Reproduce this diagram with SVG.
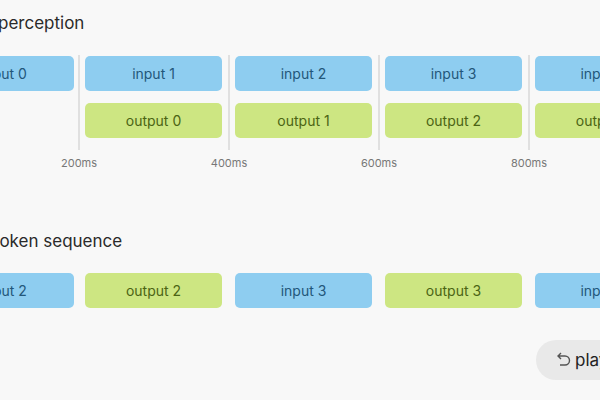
<svg xmlns="http://www.w3.org/2000/svg" width="600" height="400" viewBox="0 0 600 400">
<style>
.t{font-family:Inter,"Noto Sans",sans-serif}
.h{font-size:17px;fill:#2a2a2a}
.in rect{fill:#8ecdf0}
.in text{fill:#23577a}
.out rect{fill:#cde682}
.out text{fill:#4b6414}
.lb{font-size:14px;text-anchor:middle}
.tick{font-size:11px;fill:#777;text-anchor:middle}
.div{stroke:#d8d8d8;stroke-width:1.5}
</style>
<rect width="600" height="400" fill="#f8f8f8"/>
<text class="t h" x="-2" y="29">perception</text>
<text class="t h" x="-6" y="247">token sequence</text>
<g id="connectors">
<line class="div" x1="79" y1="55" x2="79" y2="150"/>
<line class="div" x1="229" y1="55" x2="229" y2="150"/>
<line class="div" x1="379" y1="55" x2="379" y2="150"/>
<line class="div" x1="529" y1="55" x2="529" y2="150"/>
</g>
<g class="t tick"><text x="79" y="167">200ms</text><text x="229" y="167">400ms</text><text x="379" y="167">600ms</text><text x="529" y="167">800ms</text></g>
<g id="in0" class="t in lb"><rect x="-66" y="56" width="140" height="35" rx="5"/><text x="4" y="79">input 0</text></g>
<g id="in1" class="t in lb"><rect x="85" y="56" width="137" height="35" rx="5"/><text x="153.5" y="79">input 1</text></g>
<g id="in2" class="t in lb"><rect x="235" y="56" width="137" height="35" rx="5"/><text x="303.5" y="79">input 2</text></g>
<g id="in3" class="t in lb"><rect x="385" y="56" width="137" height="35" rx="5"/><text x="453.5" y="79">input 3</text></g>
<g id="in4" class="t in lb"><rect x="535" y="56" width="137" height="35" rx="5"/><text x="603.5" y="79">input 4</text></g>
<g id="out0" class="t out lb"><rect x="85" y="103" width="137" height="35" rx="5"/><text x="153.5" y="126">output 0</text></g>
<g id="out1" class="t out lb"><rect x="235" y="103" width="137" height="35" rx="5"/><text x="303.5" y="126">output 1</text></g>
<g id="out2" class="t out lb"><rect x="385" y="103" width="137" height="35" rx="5"/><text x="453.5" y="126">output 2</text></g>
<g id="out3" class="t out lb"><rect x="535" y="103" width="137" height="35" rx="5"/><text x="603.5" y="126">output 3</text></g>
<g id="s0" class="t in lb"><rect x="-66" y="273" width="140" height="35" rx="5"/><text x="4" y="296">input 2</text></g>
<g id="s1" class="t out lb"><rect x="85" y="273" width="137" height="35" rx="5"/><text x="153.5" y="296">output 2</text></g>
<g id="s2" class="t in lb"><rect x="235" y="273" width="137" height="35" rx="5"/><text x="303.5" y="296">input 3</text></g>
<g id="s3" class="t out lb"><rect x="385" y="273" width="137" height="35" rx="5"/><text x="453.5" y="296">output 3</text></g>
<g id="s4" class="t in lb"><rect x="535" y="273" width="137" height="35" rx="5"/><text x="603.5" y="296">input 4</text></g>
<g id="play">
<rect x="536" y="340" width="120" height="40" rx="20" fill="#e9e9e9"/>
<path d="M558 356 h7 a4.5 4.5 0 0 1 0 9 h-5 M561 353 l-3 3 l3 3" fill="none" stroke="#555" stroke-width="1.4"/>
<text class="t" x="575" y="366" font-size="17" fill="#222">play</text>
</g>
</svg>
